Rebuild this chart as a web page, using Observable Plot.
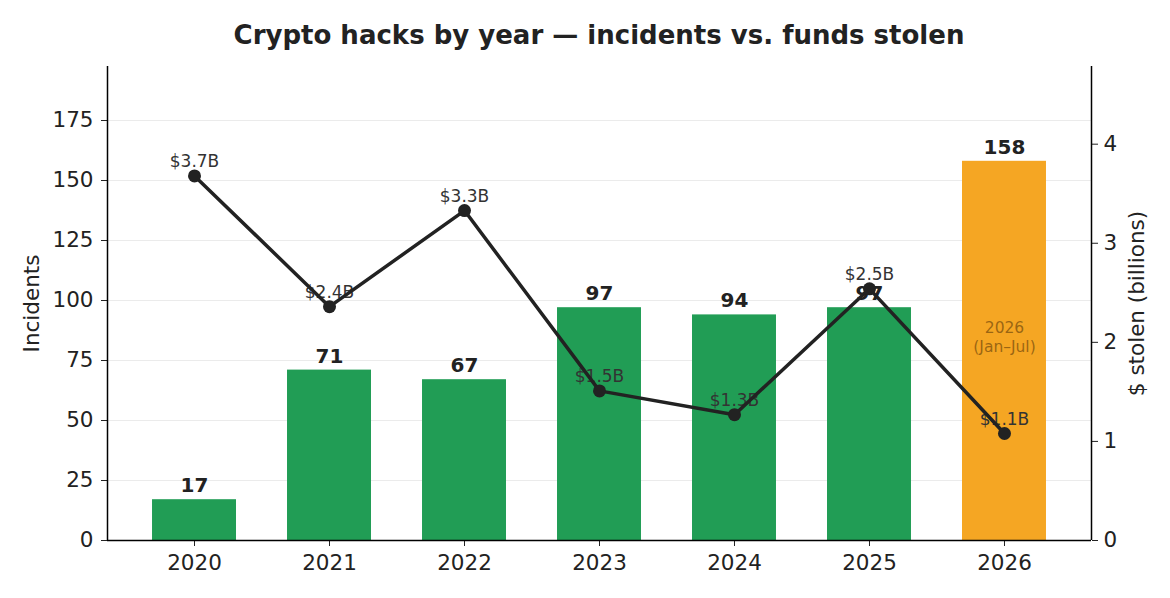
<!DOCTYPE html>
<html>
<head>
<meta charset="utf-8">
<script src="https://cdn.jsdelivr.net/npm/d3@7"></script>
<script src="https://cdn.jsdelivr.net/npm/@observablehq/plot@0.6"></script>
<style>
  html, body { margin: 0; padding: 0; background: #fff; }
  #chart { width: 1170px; font-family: "DejaVu Sans", sans-serif; }
  #title {
    box-sizing: border-box;
    height: 52px;
    padding: 21px 79px 0 107px;
    line-height: 28px;
    text-align: center;
    font-size: 26px;
    font-weight: bold;
    color: #222;
  }
</style>
</head>
<body>
<div id="chart">
  <div id="title">Crypto hacks by year — incidents vs. funds stolen</div>
</div>
<script>
// Yearly crypto hack counts and the funds stolen (US$ billions)
const years = [2020, 2021, 2022, 2023, 2024, 2025, 2026];
const incidents = [17, 71, 67, 97, 94, 97, 158];
const stolenBillions = [3.68, 2.36, 3.33, 1.51, 1.27, 2.54, 1.08];
const partialYear = 2026;
const partialNote = "2026\n(Jan–Jul)";

const leftTicks = [0, 25, 50, 75, 100, 125, 150, 175];
const rightTicks = [0, 1, 2, 3, 4];

const green = "#219d55";
const orange = "#f5a623";
const ink = "#222222";

const rows = years.map((year, i) => ({
  year,
  incidents: incidents[i],
  stolen: stolenBillions[i]
}));

// Both series share one vertical scale; dollars are mapped onto the incidents range.
const yMax = d3.max(incidents) * 1.25;
const y2Max = d3.max(stolenBillions) * 1.3;
const k = yMax / y2Max;
const halfBar = 0.311;
const xPad = 0.6445;
const tickFont = 21.5;

const plot = Plot.plot({
  width: 1170,
  height: 546,
  marginTop: 14,
  marginBottom: 58,
  marginLeft: 107,
  marginRight: 79,
  style: { fontFamily: "DejaVu Sans, sans-serif", color: ink, background: "#fff" },
  x: { domain: [years[0] - xPad, years[years.length - 1] + xPad] },
  y: { domain: [0, yMax] },
  marks: [
    Plot.gridY(leftTicks.slice(1), { stroke: "#ebebeb", strokeOpacity: 1, strokeWidth: 1 }),
    Plot.rectY(rows, {
      x1: d => d.year - halfBar,
      x2: d => d.year + halfBar,
      y: "incidents",
      fill: d => d.year === partialYear ? orange : green
    }),
    Plot.text(rows, {
      x: "year", y: "incidents", text: d => String(d.incidents),
      dy: -14, fontSize: 20, fontWeight: "bold", fill: ink
    }),
    Plot.text(rows.filter(d => d.year === partialYear), {
      x: "year", y: () => 85, text: () => partialNote,
      fontSize: 15.5, lineHeight: 1.2, fill: "#8a5a10", fillOpacity: 0.85
    }),
    Plot.text(rows, {
      x: "year", y: d => d.stolen * k, text: d => `$${d.stolen.toFixed(1)}B`,
      dy: -14, fontSize: 17, fill: "#333"
    }),
    Plot.line(rows, {
      x: "year", y: d => d.stolen * k, stroke: ink, strokeWidth: 3.5
    }),
    Plot.dot(rows, {
      x: "year", y: d => d.stolen * k, r: 6.5, fill: ink, stroke: "none"
    }),
    Plot.axisY(leftTicks, {
      anchor: "left", tickSize: 6, tickPadding: 8, fontSize: tickFont,
      label: "Incidents", labelAnchor: "center", labelArrow: "none", labelOffset: 84
    }),
    Plot.axisY(rightTicks.map(v => v * k), {
      anchor: "right", tickSize: 6, tickPadding: 6, fontSize: tickFont,
      tickFormat: d => String(Math.round(d / k)),
      label: "$ stolen (billions)", labelAnchor: "center", labelArrow: "none", labelOffset: 52
    }),
    Plot.axisX(years, {
      anchor: "bottom", tickSize: 6, tickPadding: 8, fontSize: tickFont,
      tickFormat: d => String(d), label: null
    }),
    Plot.ruleX([years[0] - xPad, years[years.length - 1] + xPad], { stroke: "#000", strokeWidth: 1.5 }),
    Plot.ruleY([0], { stroke: "#000", strokeWidth: 1.5 })
  ]
});

document.getElementById("chart").appendChild(plot);
</script>
</body>
</html>
